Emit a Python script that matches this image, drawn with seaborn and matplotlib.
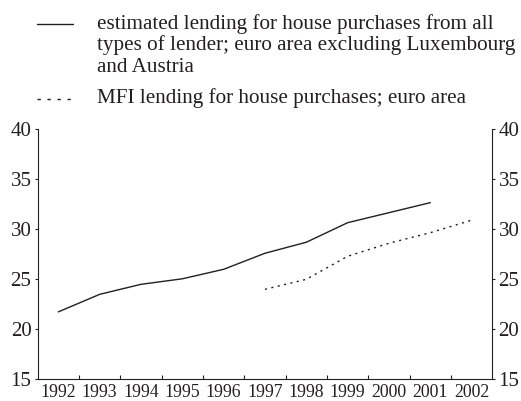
import matplotlib
matplotlib.use("Agg")
import matplotlib.pyplot as plt
from matplotlib.lines import Line2D
import seaborn as sns
import pandas as pd

# Lending for house purchases as a share of GDP (%)
years = [1992, 1993, 1994, 1995, 1996, 1997, 1998, 1999, 2000, 2001, 2002]
all_lenders_years = [1992, 1993, 1994, 1995, 1996, 1997, 1998, 1999, 2000, 2001]
all_lenders = [21.7, 23.45, 24.45, 25.0, 25.95, 27.55, 28.65, 30.6, 31.6, 32.6]
mfi_years = [1997, 1998, 1999, 2000, 2001, 2002]
mfi = [23.95, 24.95, 27.25, 28.55, 29.6, 30.85]
y_ticks = [15, 20, 25, 30, 35, 40]

legend_all = ["estimated lending for house purchases from all",
              "types of lender; euro area excluding Luxembourg",
              "and Austria"]
legend_mfi = "MFI lending for house purchases; euro area"

sns.set_style("ticks")
plt.rcParams["font.family"] = ["Liberation Serif", "DejaVu Serif"]
ink = "#231f20"
plt.rcParams.update({"text.color": ink, "axes.edgecolor": ink,
                     "xtick.color": ink, "ytick.color": ink,
                     "axes.linewidth": 0.8})

W, H = 521, 401
fig = plt.figure(figsize=(W / 100, H / 100), dpi=100)
ax = fig.add_axes([37.7 / W, 1 - 379 / H, (492.3 - 37.7) / W, (379 - 128.5) / H])

df_all = pd.DataFrame({"year": all_lenders_years, "value": all_lenders})
df_mfi = pd.DataFrame({"year": mfi_years, "value": mfi})
sns.lineplot(data=df_all, x="year", y="value", ax=ax, color=ink, lw=1.0)
sns.lineplot(data=df_mfi, x="year", y="value", ax=ax, color=ink, lw=1.0,
             linestyle=(0, (1.5, 3.2)))

ax.set_xlim(years[0] - 0.5, years[-1] + 0.5)
ax.set_ylim(y_ticks[0], y_ticks[-1])
ax.set_xlabel("")
ax.set_ylabel("")

# year labels at category centres, tick marks on category boundaries
ax.set_xticks([y + 0.5 for y in years[:-1]])
ax.set_xticklabels([])
ax.set_xticks(years, minor=True)
ax.set_xticklabels([str(y) for y in years], minor=True)
ax.tick_params(axis="x", which="major", direction="in", length=3, width=0.8)
ax.tick_params(axis="x", which="minor", length=0, pad=3.5, labelsize=12.8)

ax.set_yticks(y_ticks)
ax.tick_params(axis="y", direction="out", length=2, width=0.8, pad=2.5,
               left=True, right=True, labelleft=True, labelright=True,
               labelsize=15)

ax.spines["top"].set_visible(False)
ax.spines["right"].set_visible(True)

# legend drawn above the plot
x_key0, x_key1, x_text = 37 / W, 73 / W, 97 / W
fs_leg = 15.2
fig.add_artist(Line2D([x_key0, x_key1], [1 - 24 / H, 1 - 24 / H],
                      transform=fig.transFigure, color=ink, lw=1.0))
for i, line in enumerate(legend_all):
    fig.text(x_text, 1 - (29 + 21.3 * i) / H, line, fontsize=fs_leg,
             va="baseline", ha="left")
fig.add_artist(Line2D([x_key0, x_key1], [1 - 99 / H, 1 - 99 / H],
                      transform=fig.transFigure, color=ink, lw=1.0,
                      linestyle=(0, (2.4, 4.8))))
fig.text(x_text, 1 - 103 / H, legend_mfi, fontsize=fs_leg, va="baseline",
         ha="left")

fig.savefig("out.png", dpi=100)
